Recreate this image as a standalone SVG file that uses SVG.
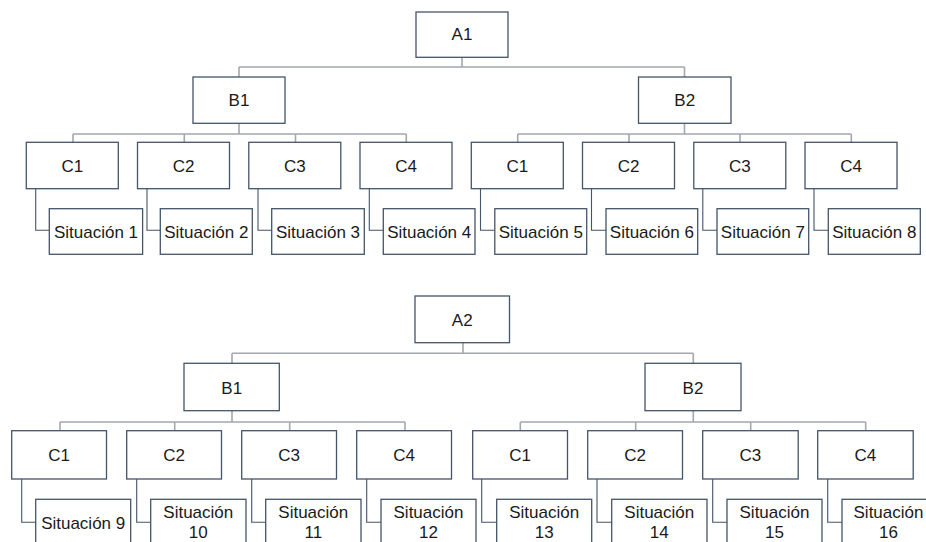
<svg xmlns="http://www.w3.org/2000/svg" width="926" height="542" viewBox="0 0 926 542">
<style>
.box{fill:#fff;stroke:#44546a;stroke-width:1.3}
.t{font-family:"Liberation Sans",Arial,sans-serif;font-size:17px;fill:#1a1a1a;text-anchor:middle}
.tree{fill:none;stroke:#a3a7ae;stroke-width:1.6}
.el{fill:none;stroke:#44546a;stroke-width:1.1}
</style>
<rect width="926" height="542" fill="#fff"/>
<g id="connectors">
<path class="tree" d="M462 57V67M239 67H684.5M239 67V77M684.5 67V77"/>
<path class="tree" d="M239 123V134M73 134H406.3M73 134V142.3M184.3 134V142.3M295.5 134V142.3M406.3 134V142.3"/>
<path class="tree" d="M684.5 123V134M517.7 134H851.3M517.7 134V142.3M629 134V142.3M740 134V142.3M851.3 134V142.3"/>
<path class="el" d="M35.7 188.7V230.3H49.3M147 188.7V230.3H160.3M258 188.7V230.3H271.7M369.3 188.7V230.3H383.3M480.5 188.7V230.3H494.8M591.5 188.7V230.3H606M702.8 188.7V230.3H717M814 188.7V230.3H828.3"/>
<path class="tree" d="M463 342.7V353.3M232 353.3H693.3M232 353.3V363.3M693.3 353.3V363.3"/>
<path class="tree" d="M232 410.7V422M60 422H405M60 422V430.7M174.7 422V430.7M289.7 422V430.7M405 422V430.7"/>
<path class="tree" d="M693.3 410.7V422M520.3 422H865.7M520.3 422V430.7M635.7 422V430.7M750.7 422V430.7M865.7 422V430.7"/>
<path class="el" d="M21.7 479V522.3H35.7M136.7 479V522.3H150.7M251.7 479V522.3H265.7M366.7 479V522.3H381M481.7 479V522.3H496.7M597 479V522.3H611.7M712.7 479V522.3H727M827.7 479V522.3H842"/>
</g>
<g id="A1"><rect class="box" x="416" y="12" width="92" height="45.3"/><text class="t" x="462" y="40">A1</text></g>
<g id="B1_top"><rect class="box" x="193" y="77" width="92" height="46.3"/><text class="t" x="239" y="106">B1</text></g>
<g id="B2_top"><rect class="box" x="638.5" y="77" width="92.5" height="46.3"/><text class="t" x="684.7" y="106">B2</text></g>
<g id="C1_top_l"><rect class="box" x="26.3" y="142.3" width="92" height="46.4"/><text class="t" x="72.3" y="171.5">C1</text></g>
<g id="C2_top_l"><rect class="box" x="137.5" y="142.3" width="92" height="46.4"/><text class="t" x="183.5" y="171.5">C2</text></g>
<g id="C3_top_l"><rect class="box" x="248.8" y="142.3" width="92" height="46.4"/><text class="t" x="294.8" y="171.5">C3</text></g>
<g id="C4_top_l"><rect class="box" x="360" y="142.3" width="92" height="46.4"/><text class="t" x="406" y="171.5">C4</text></g>
<g id="C1_top_r"><rect class="box" x="471.3" y="142.3" width="92" height="46.4"/><text class="t" x="517.3" y="171.5">C1</text></g>
<g id="C2_top_r"><rect class="box" x="582.5" y="142.3" width="92" height="46.4"/><text class="t" x="628.5" y="171.5">C2</text></g>
<g id="C3_top_r"><rect class="box" x="693.8" y="142.3" width="92" height="46.4"/><text class="t" x="739.8" y="171.5">C3</text></g>
<g id="C4_top_r"><rect class="box" x="805" y="142.3" width="92" height="46.4"/><text class="t" x="851" y="171.5">C4</text></g>
<g id="S1"><rect class="box" x="49.3" y="208.7" width="93.3" height="45.6"/><text class="t" x="96" y="237.5">Situación 1</text></g>
<g id="S2"><rect class="box" x="160.3" y="208.7" width="92" height="45.6"/><text class="t" x="206.3" y="237.5">Situación 2</text></g>
<g id="S3"><rect class="box" x="271.7" y="208.7" width="92.6" height="45.6"/><text class="t" x="318" y="237.5">Situación 3</text></g>
<g id="S4"><rect class="box" x="383.3" y="208.7" width="91.7" height="45.6"/><text class="t" x="429.2" y="237.5">Situación 4</text></g>
<g id="S5"><rect class="box" x="494.8" y="208.7" width="91.9" height="45.6"/><text class="t" x="540.8" y="237.5">Situación 5</text></g>
<g id="S6"><rect class="box" x="606" y="208.7" width="91.7" height="45.6"/><text class="t" x="651.9" y="237.5">Situación 6</text></g>
<g id="S7"><rect class="box" x="717" y="208.7" width="91.7" height="45.6"/><text class="t" x="762.9" y="237.5">Situación 7</text></g>
<g id="S8"><rect class="box" x="828.3" y="208.7" width="92" height="45.6"/><text class="t" x="874.3" y="237.5">Situación 8</text></g>
<g id="A2"><rect class="box" x="415" y="296" width="94.5" height="46.7"/><text class="t" x="462.2" y="325.5">A2</text></g>
<g id="B1_bot"><rect class="box" x="184" y="363.3" width="95.3" height="47.4"/><text class="t" x="231.7" y="393.5">B1</text></g>
<g id="B2_bot"><rect class="box" x="645" y="363.3" width="96" height="47.4"/><text class="t" x="693" y="393.5">B2</text></g>
<g id="C1_bot_l"><rect class="box" x="11.7" y="430.7" width="94.8" height="48.3"/><text class="t" x="59.1" y="461">C1</text></g>
<g id="C2_bot_l"><rect class="box" x="126.7" y="430.7" width="94.8" height="48.3"/><text class="t" x="174.1" y="461">C2</text></g>
<g id="C3_bot_l"><rect class="box" x="241.7" y="430.7" width="94.8" height="48.3"/><text class="t" x="289.1" y="461">C3</text></g>
<g id="C4_bot_l"><rect class="box" x="356.7" y="430.7" width="94.8" height="48.3"/><text class="t" x="404.1" y="461">C4</text></g>
<g id="C1_bot_r"><rect class="box" x="472.7" y="430.7" width="94.8" height="48.3"/><text class="t" x="520.1" y="461">C1</text></g>
<g id="C2_bot_r"><rect class="box" x="587.7" y="430.7" width="94.8" height="48.3"/><text class="t" x="635.1" y="461">C2</text></g>
<g id="C3_bot_r"><rect class="box" x="702.7" y="430.7" width="95.5" height="48.3"/><text class="t" x="750.4" y="461">C3</text></g>
<g id="C4_bot_r"><rect class="box" x="817.7" y="430.7" width="95.5" height="48.3"/><text class="t" x="865.4" y="461">C4</text></g>
<g id="S9"><rect class="box" x="35.7" y="499.3" width="95" height="50"/><text class="t" x="83.2" y="528.5">Situación 9</text></g>
<g id="S10"><rect class="box" x="150.7" y="499.3" width="95.3" height="50"/><text class="t" x="198.3" y="517.5">Situación</text><text class="t" x="198.3" y="537.5">10</text></g>
<g id="S11"><rect class="box" x="265.7" y="499.3" width="95.3" height="50"/><text class="t" x="313.3" y="517.5">Situación</text><text class="t" x="313.3" y="537.5">11</text></g>
<g id="S12"><rect class="box" x="381" y="499.3" width="95" height="50"/><text class="t" x="428.5" y="517.5">Situación</text><text class="t" x="428.5" y="537.5">12</text></g>
<g id="S13"><rect class="box" x="496.7" y="499.3" width="95" height="50"/><text class="t" x="544.2" y="517.5">Situación</text><text class="t" x="544.2" y="537.5">13</text></g>
<g id="S14"><rect class="box" x="611.7" y="499.3" width="95.3" height="50"/><text class="t" x="659.3" y="517.5">Situación</text><text class="t" x="659.3" y="537.5">14</text></g>
<g id="S15"><rect class="box" x="727" y="499.3" width="95" height="50"/><text class="t" x="774.5" y="517.5">Situación</text><text class="t" x="774.5" y="537.5">15</text></g>
<g id="S16"><rect class="box" x="842" y="499.3" width="95" height="50"/><text class="t" x="888.5" y="517.5">Situación</text><text class="t" x="888.5" y="537.5">16</text></g>
</svg>
